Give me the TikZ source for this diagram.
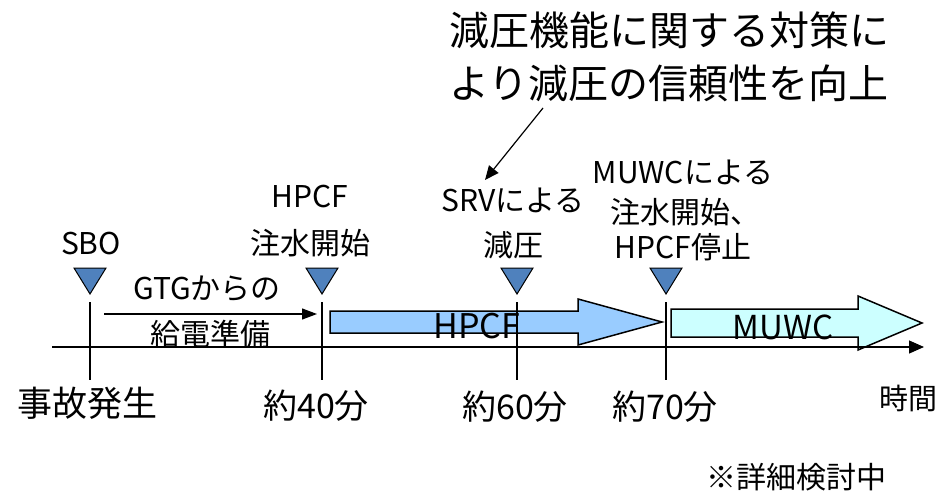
\documentclass[tikz,border=0pt]{standalone}
\usepackage{fontspec}
\setmainfont{Noto Sans CJK JP}
\usepackage{xcolor}
\usetikzlibrary{arrows.meta}
\definecolor{tribl}{HTML}{4F81BD}
\definecolor{hpcfbl}{HTML}{99CCFF}
\definecolor{muwccy}{HTML}{CCFFFF}

\begin{document}
\begin{tikzpicture}[x=1pt,y=-1pt,
  lbl/.style={font=\fontsize{30}{36}\selectfont, inner sep=0pt, align=center},
  timelbl/.style={font=\fontsize{34}{40}\selectfont, inner sep=0pt},
  bigtxt/.style={font=\fontsize{40}{53}\selectfont, inner sep=0pt, align=center},
  tri/.style={fill=tribl, draw=black, line width=1pt},
  blockarr/.style={draw=black, line width=1.5pt}]
\useasboundingbox (0,0) rectangle (941,494);

% block arrows
\draw [blockarr, fill=hpcfbl] (330,311) -- (578,311) -- (578,299) -- (662,322) -- (578,345) -- (578,333) -- (330,333) -- cycle;
\draw [blockarr, fill=muwccy] (671,309) -- (858,309) -- (858,296) -- (922,323) -- (858,350) -- (858,337) -- (671,337) -- cycle;
\node [lbl, font=\fontsize{34}{36}\selectfont] (hpcf) at (477,326) {HPCF};
\node [lbl, font=\fontsize{33}{36}\selectfont] (muwc) at (783,327) {MUWC};

% time axis
\coordinate (ax0) at (52,347);
\coordinate (ax1) at (924,347);
\draw [line width=1.2pt, -{Triangle[length=15pt,width=13pt]}] (ax0) -- (ax1);

% ticks and markers
\foreach \x in {90,322,517,666} {
  \draw [line width=1.2pt] (\x,302) -- (\x,380);
  \draw [tri] (\x-16,268) -- (\x+16,268) -- (\x,294) -- cycle;
}

% events
\node [lbl] (sbo) at (91,244) {SBO};
\node [lbl] (hpcfa) at (310,197) {HPCF};
\node [lbl] (hpcfb) at (310,243) {注水開始};
\node [lbl] (srva) at (513,200) {SRVによる};
\node [lbl] (srvb) at (513,245) {減圧};
\node [lbl] (muwca) at (683,172) {MUWCによる};
\node [lbl] (muwcb) at (685,212) {注水開始、};
\node [lbl] (muwcc) at (683,247) {HPCF停止};

% power supply
\coordinate (gtg0) at (104,314);
\coordinate (gtg1) at (317,314);
\draw [line width=1.2pt, -{Triangle[length=15pt,width=11pt]}] (gtg0) -- (gtg1);
\node [lbl] (gtga) at (207,289) {GTGからの};
\node [lbl] (gtgb) at (210,334) {給電準備};

% times
\node [timelbl, font=\fontsize{35}{40}\selectfont] (t0) at (87,403) {事故発生};
\node [timelbl] (t40) at (316,406) {約40分};
\node [timelbl] (t60) at (515,407) {約60分};
\node [timelbl] (t70) at (665,407) {約70分};
\node [lbl, font=\fontsize{29}{36}\selectfont] (jikan) at (908,398) {時間};

% note
\node [bigtxt] (note) at (669,57) {減圧機能に関する対策に\\より減圧の信頼性を向上};
\coordinate (note0) at (543,108);
\coordinate (srvtip) at (485,180);
\draw [line width=1.2pt, -{Triangle[length=14pt,width=12pt]}] (note0) -- (srvtip);

\node [lbl] (kento) at (796,477) {※詳細検討中};
\end{tikzpicture}
\end{document}
